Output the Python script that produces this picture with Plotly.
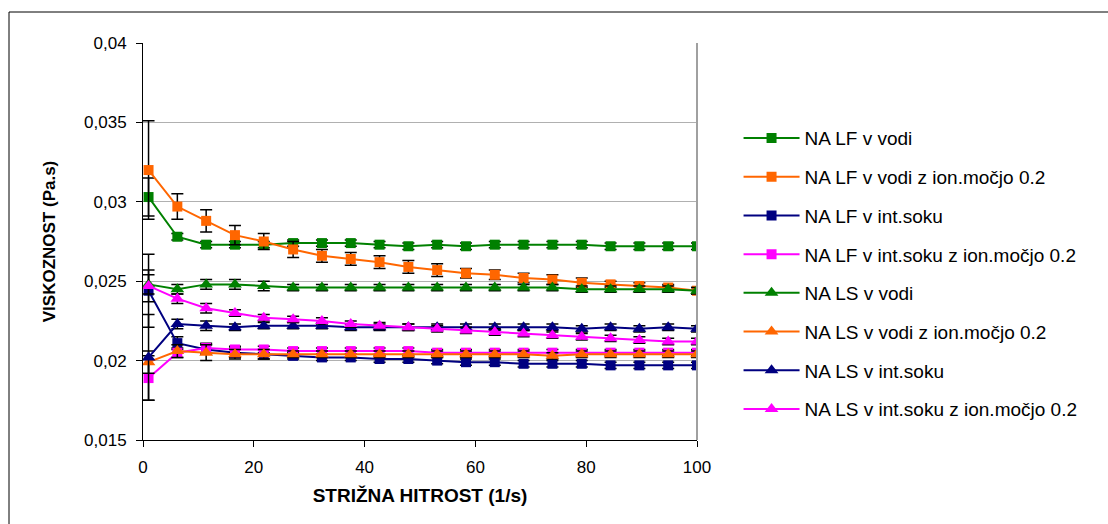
import plotly.graph_objects as go

# ---- data ----
shear_rate = [1, 6.2, 11.4, 16.6, 21.8, 27.1, 32.3, 37.5, 42.7, 47.9,
              53.1, 58.3, 63.5, 68.7, 73.9, 79.2, 84.4, 89.6, 94.8, 100]

names = [
    "NA LF v vodi",
    "NA LF v vodi z ion.močjo 0.2",
    "NA LF v int.soku",
    "NA LF v int.soku z ion.močjo 0.2",
    "NA LS v vodi",
    "NA LS v vodi z ion.močjo 0.2",
    "NA LS v int.soku",
    "NA LS v int.soku z ion.močjo 0.2",
]

lf_vodi = [0.0303, 0.0278, 0.0273, 0.0273, 0.0273, 0.0274, 0.0274, 0.0274, 0.0273, 0.0272,
           0.0273, 0.0272, 0.0273, 0.0273, 0.0273, 0.0273, 0.0272, 0.0272, 0.0272, 0.0272]
lf_vodi_ion = [0.0320, 0.0297, 0.0288, 0.0279, 0.0275, 0.0270, 0.0266, 0.0264, 0.0262, 0.0259,
               0.0257, 0.0255, 0.0254, 0.0252, 0.0251, 0.0249, 0.0248, 0.0247, 0.0246, 0.0244]
lf_int = [0.0244, 0.0211, 0.0207, 0.0205, 0.0204, 0.0203, 0.0202, 0.0202, 0.0201, 0.0201,
          0.0200, 0.0199, 0.0199, 0.0198, 0.0198, 0.0198, 0.0197, 0.0197, 0.0197, 0.0197]
lf_int_ion = [0.0189, 0.0205, 0.0208, 0.0207, 0.0207, 0.0206, 0.0206, 0.0206, 0.0206, 0.0206,
              0.0205, 0.0205, 0.0205, 0.0205, 0.0205, 0.0205, 0.0205, 0.0205, 0.0205, 0.0205]
ls_vodi = [0.0248, 0.0245, 0.0248, 0.0248, 0.0247, 0.0246, 0.0246, 0.0246, 0.0246, 0.0246,
           0.0246, 0.0246, 0.0246, 0.0246, 0.0246, 0.0245, 0.0245, 0.0245, 0.0245, 0.0244]
ls_vodi_ion = [0.0199, 0.0206, 0.0205, 0.0204, 0.0204, 0.0204, 0.0204, 0.0204, 0.0204, 0.0204,
               0.0204, 0.0204, 0.0204, 0.0204, 0.0203, 0.0204, 0.0204, 0.0204, 0.0204, 0.0204]
ls_int = [0.0202, 0.0223, 0.0222, 0.0221, 0.0222, 0.0222, 0.0222, 0.0221, 0.0221, 0.0221,
          0.0221, 0.0221, 0.0221, 0.0221, 0.0221, 0.0220, 0.0221, 0.0220, 0.0221, 0.0220]
ls_int_ion = [0.0247, 0.0239, 0.0233, 0.0230, 0.0227, 0.0226, 0.0225, 0.0223, 0.0222, 0.0221,
              0.0220, 0.0219, 0.0218, 0.0217, 0.0216, 0.0215, 0.0214, 0.0213, 0.0212, 0.0212]

err_lf_vodi = [0.0012, 0.0002, 0.0002, 0.0002, 0.0002, 0.0002, 0.0002, 0.0002, 0.0002, 0.0002,
               0.0002, 0.0002, 0.0002, 0.0002, 0.0002, 0.0002, 0.0002, 0.0002, 0.0002, 0.0002]
err_lf_vodi_ion = [0.0031, 0.0008, 0.0007, 0.0006, 0.0005, 0.0005, 0.0004, 0.0004, 0.0004, 0.0004,
                   0.0004, 0.0003, 0.0003, 0.0003, 0.0003, 0.0003, 0.0002, 0.0002, 0.0002, 0.0002]
err_lf_int = [0.0023, 0.0004, 0.0003, 0.0003, 0.0003, 0.0002, 0.0002, 0.0002, 0.0002, 0.0002,
              0.0002, 0.0002, 0.0002, 0.0002, 0.0002, 0.0002, 0.0002, 0.0002, 0.0002, 0.0002]
err_lf_int_ion = [0.0014, 0.0003, 0.0003, 0.0002, 0.0002, 0.0002, 0.0002, 0.0002, 0.0002, 0.0002,
                  0.0002, 0.0002, 0.0002, 0.0002, 0.0002, 0.0002, 0.0002, 0.0002, 0.0002, 0.0002]
err_ls_vodi = [0.0006, 0.0003, 0.0003, 0.0003, 0.0003, 0.0002, 0.0002, 0.0002, 0.0002, 0.0002,
               0.0002, 0.0002, 0.0002, 0.0002, 0.0002, 0.0002, 0.0002, 0.0002, 0.0002, 0.0002]
err_ls_vodi_ion = [0.0007, 0.0004, 0.0005, 0.0003, 0.0003, 0.0002, 0.0002, 0.0002, 0.0002, 0.0002,
                   0.0002, 0.0002, 0.0002, 0.0002, 0.0002, 0.0002, 0.0002, 0.0002, 0.0002, 0.0002]
err_ls_int = [0.0027, 0.0003, 0.0003, 0.0002, 0.0002, 0.0002, 0.0002, 0.0002, 0.0002, 0.0002,
              0.0002, 0.0002, 0.0002, 0.0002, 0.0002, 0.0002, 0.0002, 0.0002, 0.0002, 0.0002]
err_ls_int_ion = [0.0010, 0.0003, 0.0003, 0.0002, 0.0002, 0.0002, 0.0002, 0.0002, 0.0002, 0.0002,
                  0.0002, 0.0002, 0.0002, 0.0002, 0.0002, 0.0002, 0.0002, 0.0002, 0.0002, 0.0002]

y_tick_vals = [0.015, 0.02, 0.025, 0.03, 0.035, 0.04]
y_tick_text = ["0,015", "0,02", "0,025", "0,03", "0,035", "0,04"]
x_tick_vals = [0, 20, 40, 60, 80, 100]

series = [lf_vodi, lf_vodi_ion, lf_int, lf_int_ion, ls_vodi, ls_vodi_ion, ls_int, ls_int_ion]
errors = [err_lf_vodi, err_lf_vodi_ion, err_lf_int, err_lf_int_ion,
          err_ls_vodi, err_ls_vodi_ion, err_ls_int, err_ls_int_ion]
colors = ["#008000", "#FF6600", "#000080", "#FF00FF"] * 2
symbols = ["square"] * 4 + ["triangle-up"] * 4

fig = go.Figure()
for i, (nm, ys, es) in enumerate(zip(names, series, errors)):
    fig.add_trace(go.Scatter(
        x=shear_rate, y=ys, name=nm, mode="lines+markers",
        legendgroup=f"g{i}",
        line=dict(color=colors[i], width=2),
        marker=dict(symbol=symbols[i], color=colors[i],
                    size=10 if symbols[i] == "square" else 12),
        error_y=dict(type="data", array=es, visible=True,
                     color="black", thickness=1.5, width=6),
    ))

font_family = "Liberation Sans, Arial, sans-serif"
fig.update_layout(
    width=1108, height=524,
    margin=dict(l=143, r=411, t=43, b=84),
    paper_bgcolor="white", plot_bgcolor="white",
    font=dict(family=font_family, color="black", size=17),
    showlegend=True,
    legend=dict(x=1.075, y=0.808, xanchor="left", yanchor="top",
                font=dict(size=19, family=font_family),
                tracegroupgap=11, itemwidth=56,
                bgcolor="rgba(0,0,0,0)"),
    xaxis=dict(range=[0, 100], tickvals=x_tick_vals, ticks="outside", ticklen=6,
               tickcolor="black", showline=True, linecolor="black", linewidth=1,
               showgrid=False, zeroline=False, mirror=False,
               tickfont=dict(size=17), ticklabelstandoff=6,
               title=dict(text="<b>STRIŽNA HITROST (1/s)</b>", font=dict(size=19), standoff=12)),
    yaxis=dict(range=[0.015, 0.04], tickvals=y_tick_vals, ticktext=y_tick_text,
               ticks="outside", ticklen=6, tickcolor="black",
               showline=True, linecolor="black", linewidth=1,
               showgrid=True, gridcolor="#b0b0b0", gridwidth=1, zeroline=False,
               tickfont=dict(size=17), ticklabelstandoff=6,
               title=dict(text="<b>VISKOZNOST (Pa.s)</b>", font=dict(size=17), standoff=24)),
    shapes=[
        # plot-area right border (gray)
        dict(type="line", xref="paper", yref="paper", x0=1, x1=1, y0=0, y1=1,
             line=dict(color="#a0a0a0", width=2)),
        # outer chart border
        dict(type="rect", xref="paper", yref="paper",
             x0=(9 - 143) / 554, x1=(1120 - 143) / 554,
             y0=(440 - 540) / 397, y1=(440 - 12) / 397,
             line=dict(color="black", width=1), fillcolor="rgba(0,0,0,0)", layer="below"),
    ],
)

fig.write_html("out.html")
